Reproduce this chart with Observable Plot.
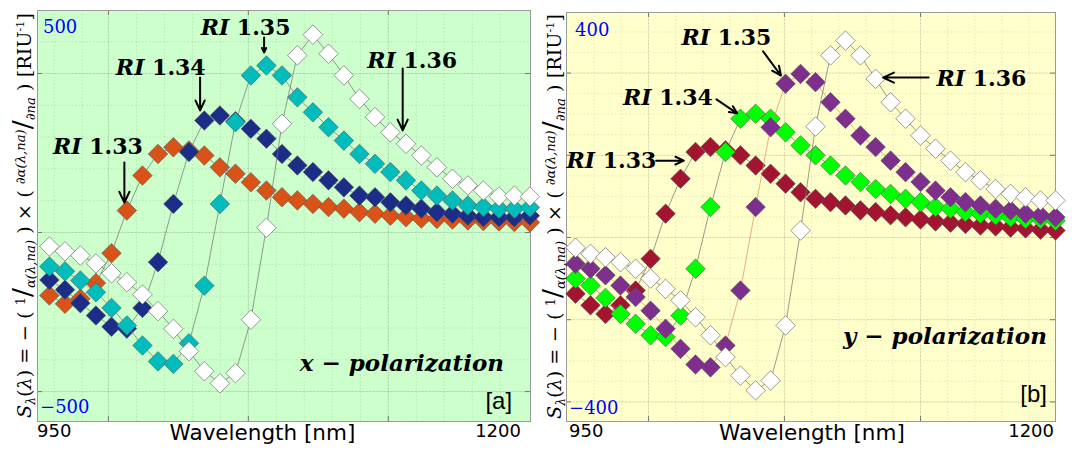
<!DOCTYPE html>
<html><head><meta charset="utf-8">
<script src="https://cdn.jsdelivr.net/npm/d3@7"></script>
<script src="https://cdn.jsdelivr.net/npm/@observablehq/plot@0.6"></script>
<style>
html,body{margin:0;padding:0;background:#fff;}
#wrap{display:flex;width:1074px;height:455px;overflow:hidden;}
#wrap svg{overflow:visible;}
</style></head><body><div id="wrap"></div>
<script>
// ---------- data: panel [a] x-polarization ----------
const wavelengthA = [950.0,958.1,966.1,974.2,982.3,990.3,998.4,1006.5,1014.5,1022.6,1030.6,1038.7,1046.8,1054.8,1062.9,1071.0,1079.0,1087.1,1095.2,1103.2,1111.3,1119.4,1127.4,1135.5,1143.5,1151.6,1159.7,1167.7,1175.8,1183.9,1191.9,1200.0];
const xpolRI133 = [-198,-224,-208,-159,-65,69,179,247,268,258,242,205,185,158,132,111,101,90,80,75,64,59,53,48,44,43,41,38,36,35,33,32];
const xpolRI134 = [-149,-180,-222,-261,-296,-302,-237,-93,90,253,352,368,350,326,295,247,211,190,164,142,116,111,95,85,75,64,59,53,48,48,48,53];
const xpolRI135 = [-107,-122,-151,-188,-237,-292,-355,-405,-413,-348,-167,90,347,494,525,494,425,378,331,289,247,216,190,164,132,116,101,85,80,75,75,79];
const xpolRI136 = [-44,-59,-72,-97,-128,-156,-195,-247,-303,-373,-436,-474,-442,-274,15,342,557,622,562,494,420,363,315,279,242,205,169,148,132,113,116,113];

// ---------- data: panel [b] y-polarization ----------
const wavelengthB = [950.0,957.8,965.6,973.4,981.3,989.1,996.9,1004.7,1012.5,1020.3,1028.1,1035.9,1043.8,1051.6,1059.4,1067.2,1075.0,1082.8,1090.6,1098.4,1106.3,1114.1,1121.9,1129.7,1137.5,1145.3,1153.1,1160.9,1168.8,1176.6,1184.4,1192.2,1200.0];
const ypolRI133 = [-137,-165,-186,-165,-129,-52,58,143,208,220,212,200,175,155,131,110,94,86,78,66,62,54,49,44,39,36,33,29,27,24,22,19,17];
const ypolRI134 = [-100,-117,-147,-186,-210,-238,-242,-190,-76,74,208,289,301,289,256,224,200,175,151,135,118,106,94,86,74,70,62,58,54,49,45,45,41];
const ypolRI135 = [-64,-76,-92,-117,-145,-178,-222,-271,-309,-316,-263,-129,74,268,374,398,378,329,289,248,220,187,159,135,114,98,86,78,70,66,58,54,49];
const ypolRI136 = [-25,-40,-48,-60,-76,-100,-125,-153,-194,-238,-291,-336,-372,-348,-214,17,270,443,479,443,386,329,289,248,216,187,159,139,118,106,98,90,90];

// ---------- axes / ticks ----------
const yTicksA = [-500, 0, 500];
const yMinorA = [-500,-400,-300,-200,-100,0,100,200,300,400,500,600];
const yTicksB = [-400,-200,0,200,400];
const yMinorB = [-400,-350,-300,-250,-200,-150,-100,-50,0,50,100,150,200,250,300,350,400,450,500];
const xTicksA = [980.7,1053.5,1126.3];
const xMinorA = [952.5,967.1,980.7,995.3,1009.9,1024.5,1039.0,1053.5,1068.1,1082.6,1097.2,1111.8,1126.3,1140.9,1155.4,1170.0,1184.6];
const xTicksB = [988.0,1058.8,1129.7];
const xMinorB = [959.7,973.8,988.0,1002.2,1016.3,1030.5,1044.6,1058.8,1073.0,1087.1,1101.3,1115.4,1129.7,1143.8,1158.0,1172.1,1186.3];
const xLabelLeft = "950", xLabelRight = "1200", xTitle = "Wavelength [nm]";

const colorsA = ["#d95319","#1c2d89","#00bcbc","#ffffff"];
const colorsB = ["#a2142f","#00ff00","#7e2f8e","#ffffff"];

function rows(wl, vals) { return wl.map((w, i) => ({w, v: vals[i]})); }

function rich(svg, x, y, parts, o = {}) {
  const t = d3.select(svg).append("text")
    .attr("x", x).attr("y", y)
    .attr("text-anchor", o.anchor || "start")
    .style("font-family", o.family || "DejaVu Serif")
    .style("font-size", (o.size || 16) + "px")
    .style("font-weight", o.weight || "normal")
    .attr("fill", o.fill || "#000");
  if (o.italic) t.style("font-style", "italic");
  if (o.transform) t.attr("transform", o.transform);
  if (o.textLength) t.attr("textLength", o.textLength).attr("lengthAdjust", "spacingAndGlyphs");
  for (const p of parts) {
    const s = t.append("tspan").text(p.t);
    if (p.i) s.style("font-style", "italic");
    if (p.s) s.style("font-size", p.s + "px");
    if (p.dy) s.attr("dy", p.dy);
  }
  return t;
}

function panel(cfg) {
  const W = 537, H = 455;
  const pw = W - cfg.ml - cfg.mr, ph = H - cfg.mt - cfg.mb;
  const series = cfg.series.map((vals, k) => ({data: rows(cfg.wl, vals), color: cfg.colors[k], line: cfg.lines[k]}));
  const marks = [
    Plot.frame({fill: cfg.bg, stroke: null}),
    Plot.ruleX(cfg.xMinor, {stroke: "#000", strokeOpacity: 0.13, strokeWidth: 0.8, strokeDasharray: "1.5,2"}),
    Plot.ruleY(cfg.yMinor, {stroke: "#000", strokeOpacity: 0.13, strokeWidth: 0.8, strokeDasharray: "1.5,2"}),
    Plot.ruleX(cfg.xTicks, {stroke: "#000", strokeOpacity: 0.10, strokeWidth: 0.8}),
    Plot.ruleY(cfg.yTicks, {stroke: "#000", strokeOpacity: 0.10, strokeWidth: 0.8}),
    Plot.ruleX(cfg.xTicks, {insetTop: ph - 5, stroke: "#777"}),
    Plot.ruleX(cfg.xTicks, {insetBottom: ph - 5, stroke: "#777"}),
    Plot.ruleY(cfg.yTicks, {insetRight: pw - 5, stroke: "#777"}),
    Plot.ruleY(cfg.yTicks, {insetLeft: pw - 5, stroke: "#777"}),
    Plot.frame({stroke: "#9a9a9a", strokeWidth: 1})
  ];
  for (const s of series) {
    marks.push(Plot.line(s.data, {x: "w", y: "v", stroke: s.line, strokeWidth: 0.7}));
    marks.push(Plot.dot(s.data, {x: "w", y: "v", symbol: "diamond2", r: 8.8, fill: s.color, stroke: "#555", strokeWidth: 0.6}));
  }
  marks.push(Plot.arrow(cfg.arrows, {x1: "x1", y1: "y1", x2: "x2", y2: "y2", stroke: "#000", strokeWidth: 2, headLength: 9, headAngle: 50}));
  const svg = Plot.plot({
    width: W, height: H,
    marginLeft: cfg.ml, marginRight: cfg.mr, marginTop: cfg.mt, marginBottom: cfg.mb,
    x: {domain: cfg.xDomain, axis: null},
    y: {domain: cfg.yDomain, axis: null},
    marks
  });
  const X = v => svg.scale("x").apply(v), Y = v => svg.scale("y").apply(v);
  // RI labels
  for (const a of cfg.labels) {
    rich(svg, X(a.x), Y(a.y), [{t: "RI", i: true}, {t: " " + a.t}], {anchor: "middle", size: 22, weight: "bold"});
  }
  rich(svg, X(cfg.pol.x), Y(cfg.pol.y), [{t: cfg.pol.t}], {anchor: "end", size: 23, weight: "bold", italic: true});
  rich(svg, X(cfg.tag.x), Y(cfg.tag.y), [{t: cfg.tag.t}], {anchor: "end", size: 24, family: "Liberation Sans"});
  rich(svg, X(cfg.top.x), Y(cfg.top.y), [{t: cfg.top.t}], {size: 18, fill: "#0000ff"});
  rich(svg, X(cfg.bot.x), Y(cfg.bot.y), [{t: cfg.bot.t}], {size: 18, fill: "#0000ff"});
  rich(svg, X(cfg.xl.x), Y(cfg.xl.y), [{t: xLabelLeft}], {size: 18, family: "DejaVu Sans"});
  rich(svg, X(cfg.xr.x), Y(cfg.xr.y), [{t: xLabelRight}], {anchor: "end", size: 18, family: "DejaVu Sans"});
  rich(svg, X(cfg.xt.x), Y(cfg.xt.y), [{t: xTitle}], {anchor: "middle", size: 21.5, family: "DejaVu Sans"});
  // y-axis title (rotated)
  const cy = cfg.mt + ph / 2;
  rich(svg, 0, 0, [
    {t: "S", i: true}, {t: "λ", i: true, s: 12, dy: 4}, {t: "(", dy: -4}, {t: "λ", i: true}, {t: ") = − ( "},
    {t: "1", s: 13, dy: -6}, {t: "/", s: 26, dy: 6}, {t: "α(λ,na)", i: true, s: 13, dy: 4},
    {t: " ) × ( ", dy: -4}, {t: "∂α(λ,na)", i: true, s: 13, dy: -6}, {t: "/", s: 26, dy: 6},
    {t: "∂na", i: true, s: 13, dy: 4}, {t: " ) [RIU", dy: -4}, {t: "-1", s: 11, dy: -7}, {t: "]", dy: 7}
  ], {anchor: "middle", size: 19, textLength: 405, transform: `translate(${cfg.ylx},${cy}) rotate(-90)`});
  return svg;
}

const wrap = document.getElementById("wrap");

wrap.appendChild(panel({
  ml: 37, mr: 7, mt: 10, mb: 34, bg: "#ccffcc",
  wl: wavelengthA, series: [xpolRI133, xpolRI134, xpolRI135, xpolRI136],
  colors: colorsA, lines: ["#707070","#707070","#707070","#707070"],
  xDomain: [943.8, 1200.3], yDomain: [-594, 698],
  xTicks: xTicksA, xMinor: xMinorA, yTicks: yTicksA, yMinor: yMinorA,
  arrows: [
    {x1: 989.0, y1: 220, x2: 989.0, y2: 94},
    {x1: 1028.4, y1: 487, x2: 1028.4, y2: 384},
    {x1: 1061.7, y1: 613, x2: 1061.7, y2: 566},
    {x1: 1133.8, y1: 516, x2: 1133.8, y2: 321}
  ],
  labels: [
    {t: "1.33", x: 975.5, y: 245},
    {t: "1.34", x: 1008.2, y: 494},
    {t: "1.35", x: 1052.3, y: 619},
    {t: "1.36", x: 1139.0, y: 516}
  ],
  pol: {t: "x − polarization", x: 1186.8, y: -437},
  tag: {t: "[a]", x: 1191.0, y: -557},
  top: {t: "500", x: 946.9, y: 626},
  bot: {t: "−500", x: 945.4, y: -569},
  xl: {x: 943.8, y: -645}, xr: {x: 1195.6, y: -645}, xt: {x: 1061.1, y: -654},
  ylx: 31
}));

wrap.appendChild(panel({
  ml: 29, mr: 19, mt: 12, mb: 34, bg: "#ffffcc",
  wl: wavelengthB, series: [ypolRI133, ypolRI134, ypolRI135, ypolRI136],
  colors: colorsB, lines: ["#707070","#707070","#d98c5f","#707070"],
  xDomain: [945.3, 1200], yDomain: [-447.7, 547.4],
  xTicks: xTicksB, xMinor: xMinorB, yTicks: yTicksB, yMinor: yMinorB,
  arrows: [
    {x1: 992.0, y1: 187, x2: 1006.4, y2: 187},
    {x1: 1023.4, y1: 336, x2: 1034.2, y2: 302},
    {x1: 1047.7, y1: 453, x2: 1057.0, y2: 394},
    {x1: 1133.9, y1: 389, x2: 1110.2, y2: 389}
  ],
  labels: [
    {t: "1.33", x: 969.0, y: 168},
    {t: "1.34", x: 998.4, y: 321},
    {t: "1.35", x: 1028.9, y: 467},
    {t: "1.36", x: 1161.7, y: 367}
  ],
  pol: {t: "y − polarization", x: 1195.8, y: -260},
  tag: {t: "[b]", x: 1195.8, y: -401},
  top: {t: "400", x: 950.0, y: 489},
  bot: {t: "−400", x: 946.9, y: -431},
  xl: {x: 946.9, y: -487}, xr: {x: 1199.5, y: -487}, xt: {x: 1073.4, y: -494},
  ylx: 24
}));
</script></body></html>
